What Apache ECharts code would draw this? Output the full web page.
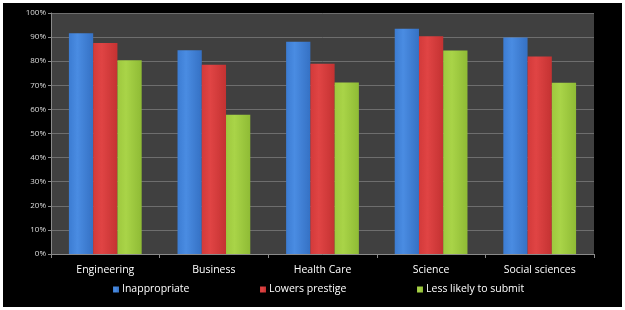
<!DOCTYPE html>
<html>
<head>
<meta charset="utf-8">
<script src="https://cdn.jsdelivr.net/npm/echarts@6/dist/echarts.min.js"></script>
<style>
  html, body { margin: 0; padding: 0; background: #fff; }
  #wrap { position: relative; width: 625px; height: 310px; background: #fff; }
  #chart { position: absolute; left: 3px; top: 3px; width: 619px; height: 304px; background: #000; }
</style>
</head>
<body>
<div id="wrap"><div id="chart"></div></div>
<script>
// Survey shares per field (percent)
const categories = ['Engineering', 'Business', 'Health Care', 'Science', 'Social sciences']
const inappropriate = [91.6, 84.5, 88.1, 93.5, 89.8]
const lowersPrestige = [87.6, 78.5, 78.9, 90.4, 81.9]
const lessLikely = [80.4, 57.8, 71.2, 84.4, 71.1]
const seriesNames = ['Inappropriate', 'Lowers prestige', 'Less likely to submit']

// Bars get a soft side shading to mimic the Excel 3D look
function barFill(light, mid, dark) {
  return new echarts.graphic.LinearGradient(0, 0, 1, 0, [
    { offset: 0, color: mid },
    { offset: 0.35, color: light },
    { offset: 1, color: dark },
  ])
}

const colors = [
  { solid: '#3d7fd6', fill: barFill('#4a8ce2', '#3c7cd2', '#3571c4') },
  { solid: '#d73b3b', fill: barFill('#e04444', '#d33a3a', '#c43232') },
  { solid: '#9fcb3f', fill: barFill('#a9d448', '#9ec83e', '#8fbb35') },
]

const values = [inappropriate, lowersPrestige, lessLikely]
const legendLeft = [105, 252, 409]

const chart = echarts.init(document.getElementById('chart'))
chart.setOption({
  backgroundColor: 'transparent',
  animation: false,
  textStyle: { fontFamily: '"Open Sans", "Noto Sans", sans-serif' },
  grid: {
    left: 48, right: 28, top: 10, bottom: 53,
    show: true, backgroundColor: '#404040', borderWidth: 0,
  },
  legend: seriesNames.map((name, i) => ({
    data: [name],
    left: legendLeft[i],
    top: 276,
    itemWidth: 6,
    itemHeight: 6,
    icon: 'rect',
    textStyle: { color: '#fff', fontSize: 10.5, padding: [0, 0, 0, -2] },
  })),
  xAxis: {
    type: 'category',
    data: categories,
    axisLine: { lineStyle: { color: '#8a8a8a', width: 1 } },
    axisTick: { show: true, length: 4, lineStyle: { color: '#8a8a8a' } },
    axisLabel: { color: '#fff', fontSize: 10.5, margin: 11 },
  },
  yAxis: {
    type: 'value',
    min: 0, max: 100, interval: 10,
    axisLine: { show: true, lineStyle: { color: '#8a8a8a' } },
    axisTick: { show: true, length: 3, lineStyle: { color: '#8a8a8a' } },
    axisLabel: { color: '#ddd', fontSize: 8, margin: 5, formatter: '{value}%' },
    splitLine: { lineStyle: { color: '#6e6e6e', width: 1 } },
  },
  series: seriesNames.map((name, i) => ({
    name,
    type: 'bar',
    data: values[i],
    barGap: '0%',
    barCategoryGap: '33%',
    color: colors[i].solid,
    itemStyle: { color: colors[i].fill },
    emphasis: { disabled: true },
  })),
})
</script>
</body>
</html>
